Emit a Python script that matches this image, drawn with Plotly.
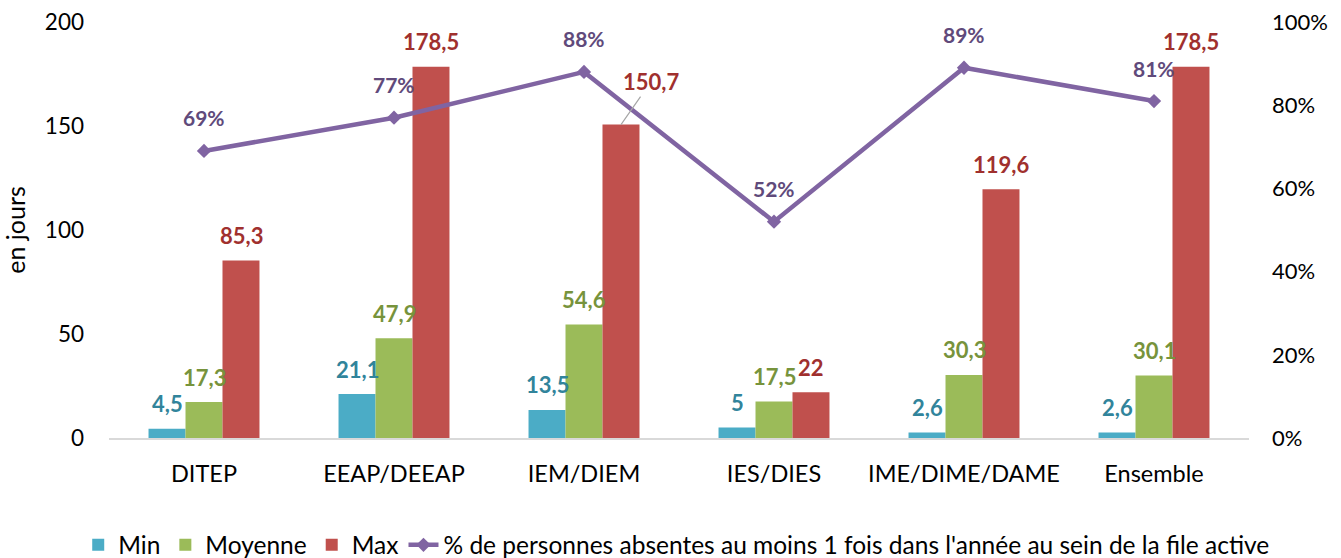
import plotly.graph_objects as go

categories = ["DITEP", "EEAP/DEEAP", "IEM/DIEM", "IES/DIES", "IME/DIME/DAME", "Ensemble"]
min_vals = [4.5, 21.1, 13.5, 5, 2.6, 2.6]
moy_vals = [17.3, 47.9, 54.6, 17.5, 30.3, 30.1]
max_vals = [85.3, 178.5, 150.7, 22, 119.6, 178.5]
pct_vals = [0.69, 0.77, 0.88, 0.52, 0.89, 0.81]
left_ticks = [0, 50, 100, 150, 200]
right_ticks = [0, 0.2, 0.4, 0.6, 0.8, 1.0]
line_name = "% de personnes absentes au moins 1 fois dans l'année au sein de la file active"

FONT = "Lato"
fmt = lambda v: f"{v:g}".replace(".", ",")

fig = go.Figure()
series = [
    ("Min", min_vals, "#4BACC6", "#31849B", -1),
    ("Moyenne", moy_vals, "#9BBB59", "#77933C", 0),
    ("Max", max_vals, "#C0504D", "#A0302E", 1),
]
for name, vals, col, lcol, off in series:
    fig.add_trace(go.Bar(name=name, x=categories, y=vals, marker=dict(color=col, line=dict(width=0)),
                         yaxis="y"))

fig.add_trace(go.Scatter(name=line_name, x=categories, y=pct_vals, yaxis="y2",
                         mode="lines+markers",
                         line=dict(color="#8064A2", width=4.5),
                         marker=dict(symbol="diamond", size=11, color="#8064A2")))

annotations = []
BW = 37
for name, vals, col, lcol, off in series:
    for c, v in zip(categories, vals):
        if name == "Max" and c == "IEM/DIEM":
            annotations.append(dict(x=c, y=v, xref="x", yref="y", text=f"<b>{fmt(v)}</b>",
                                    showarrow=True, arrowhead=0, arrowwidth=1.2, arrowcolor="#A6A6A6",
                                    ax=30, ay=-43, xshift=off * BW,
                                    font=dict(family=FONT, size=22, color=lcol)))
        else:
            annotations.append(dict(x=c, y=v, xref="x", yref="y", text=f"<b>{fmt(v)}</b>",
                                    showarrow=False, xshift=off * BW, yshift=25, yanchor="middle",
                                    font=dict(family=FONT, size=22, color=lcol)))
for c, p in zip(categories, pct_vals):
    annotations.append(dict(x=c, y=p, xref="x", yref="y2", text=f"<b>{round(p*100)}%</b>",
                            showarrow=False, yshift=33, yanchor="middle",
                            font=dict(family=FONT, size=21, color="#604A7B")))

fig.update_layout(
    width=1341, height=558,
    margin=dict(l=109, r=92, t=22, b=120, autoexpand=False),
    paper_bgcolor="white", plot_bgcolor="white",
    barmode="group", bargap=0.416, bargroupgap=0,
    font=dict(family=FONT, size=22, color="black"),
    annotations=annotations,
    xaxis=dict(showgrid=False, showline=True, linecolor="#D9D9D9", linewidth=1.5,
               ticks="", ticklabelstandoff=14, tickfont=dict(size=23.5), automargin=False),
    yaxis=dict(range=[0, 200], tickvals=left_ticks, showgrid=False, zeroline=False,
               showline=False, ticks="", ticklabelstandoff=24, automargin=False,
               ticklabeloverflow="allow",
               title=dict(text="en jours", standoff=12, font=dict(size=25)),
               tickfont=dict(size=22.5)),
    yaxis2=dict(range=[0, 1], tickvals=right_ticks, tickformat=".0%", overlaying="y",
                side="right", showgrid=False, zeroline=False, showline=False, ticks="",
                ticklabeloverflow="allow",
                ticklabelstandoff=22, tickfont=dict(size=22), automargin=False),
    legend=dict(orientation="h", x=-0.027, xanchor="left",
                y=-0.257, yanchor="middle",
                font=dict(size=24.5), traceorder="normal", itemwidth=30),
)

fig.write_html("out.html", post_script="document.body.style.margin='0px';",
               config={"displayModeBar": False})
